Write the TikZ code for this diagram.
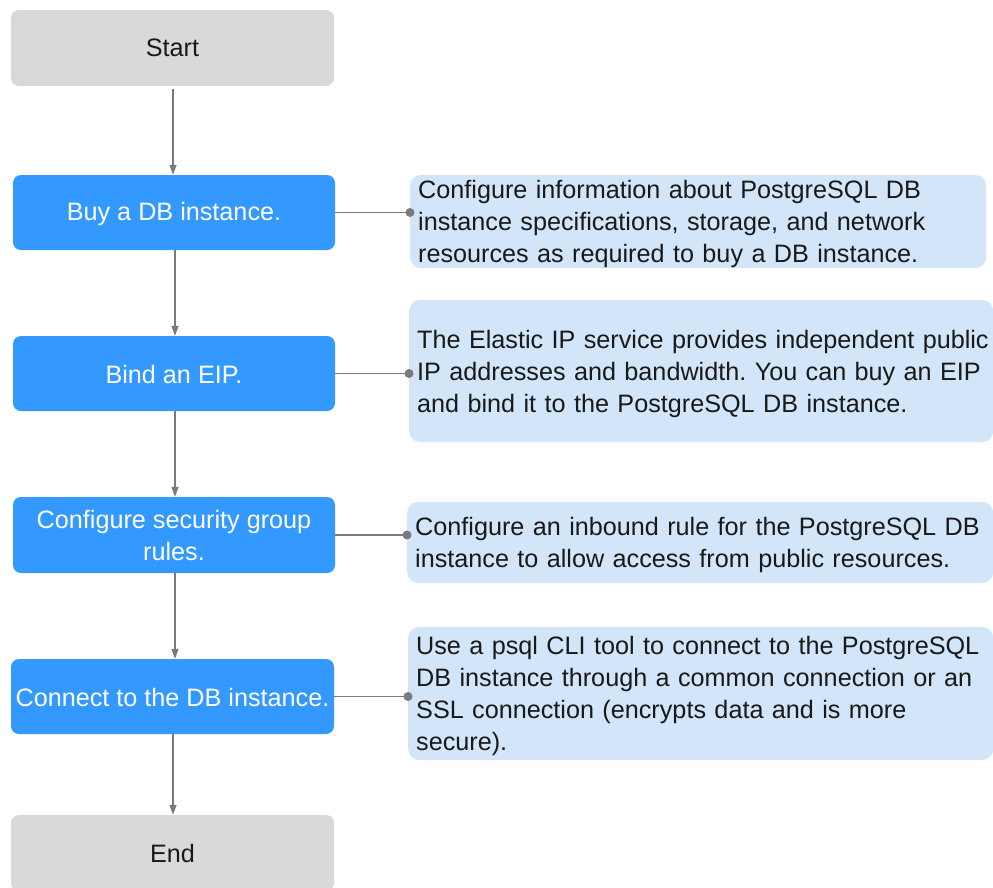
\documentclass[tikz,border=0pt]{standalone}
\usepackage{fontspec}
\setmainfont{Liberation Sans}
\usetikzlibrary{arrows.meta}
\definecolor{stepblue}{HTML}{3399FF}
\definecolor{infoblue}{HTML}{D3E5F8}
\definecolor{termgray}{HTML}{D9D9D9}
\definecolor{linegray}{HTML}{7A7A7A}
\frenchspacing
\begin{document}
\begin{tikzpicture}[x=1pt,y=-1pt,
  every node/.style={font=\fontsize{25.2}{32}\selectfont},
  term/.style={draw=none, fill=termgray, rounded corners=8pt, minimum width=323pt, minimum height=76pt, inner sep=2pt, text=black!90, align=center},
  stepbox/.style={draw=none, fill=stepblue, rounded corners=8pt, minimum width=322pt, minimum height=75pt, inner sep=2pt, text=white, align=center, execute at begin node={\rule{0pt}{21pt}}},
  info/.style={draw=none, fill=infoblue, rounded corners=11pt, anchor=west, inner xsep=8pt, inner ysep=0pt, align=left, text=black!90, execute at begin node={\rule{0pt}{24pt}}},
  flow/.style={draw=linegray, line width=1.3pt, -{Triangle[length=10pt,width=7pt]}},
  link/.style={draw=linegray, line width=1.3pt},
  dotc/.style={fill=linegray, draw=none}
]
\useasboundingbox (0,0) rectangle (993,887);
\fill[white] (0,0) rectangle (993,887);

\node[term] (start) at (172.5,48) {Start};
\node[stepbox] (buy) at (174,212.5) {Buy a DB instance.};
\node[stepbox] (bind) at (174,373.5) {Bind an EIP.};
\node[stepbox, minimum height=76pt] (conf) at (174,535) {Configure security group\\rules.};
\node[stepbox, minimum width=323pt] (conn) at (172.5,696.5) {Connect to the DB instance.};
\node[term] (end) at (172.5,853) {End};

\node[info, text width=560pt, minimum height=93pt] (i1) at (410,221.5)
  {\mbox{Configure information about PostgreSQL DB}\\\mbox{instance specifications, storage, and network}\\\mbox{resources as required to buy a DB instance.}};
\node[info, text width=568pt, minimum height=142pt] (i2) at (409,371)
  {\mbox{The Elastic IP service provides independent public}\\\mbox{IP addresses and bandwidth. You can buy an EIP}\\\mbox{and bind it to the PostgreSQL DB instance.}};
\node[info, text width=570pt, minimum height=81pt] (i3) at (407,542.5)
  {\mbox{Configure an inbound rule for the PostgreSQL DB}\\\mbox{instance to allow access from public resources.}};
\node[info, text width=569pt, minimum height=133pt] (i4) at (408,693.5)
  {\mbox{Use a psql CLI tool to connect to the PostgreSQL}\\\mbox{DB instance through a common connection or an}\\\mbox{SSL connection (encrypts data and is more}\\\mbox{secure).}};

\draw[flow, shorten <=3pt] (start.south -| 173,0) -- (buy.north -| 173,0);
\draw[flow] (buy.south -| 175,0) -- (bind.north -| 175,0);
\draw[flow] (bind.south -| 175,0) -- (conf.north -| 175,0);
\draw[flow] (conf.south -| 175,0) -- (conn.north -| 175,0);
\draw[flow] (conn.south -| 173,0) -- (end.north -| 173,0);

\foreach \s/\i in {buy/i1, bind/i2, conf/i3, conn/i4}{
  \coordinate (d\i) at (\s.east -| \i.west);
  \draw[link] (\s.east) -- (d\i);
  \fill[dotc] (d\i) circle (4.5pt);
}
\end{tikzpicture}
\end{document}
